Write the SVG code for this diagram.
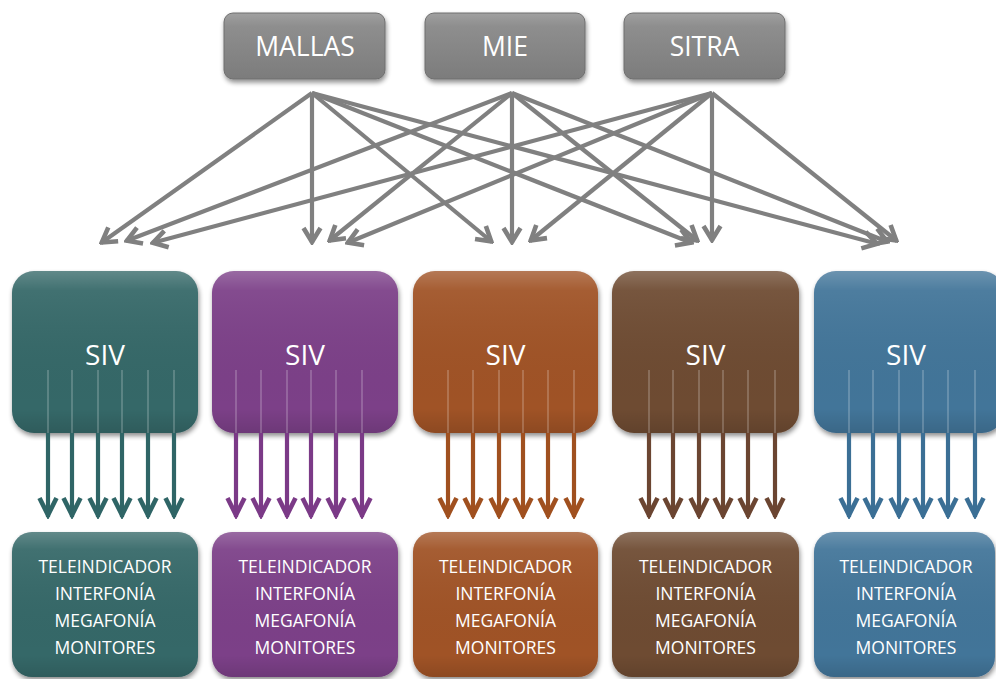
<svg xmlns="http://www.w3.org/2000/svg" width="996" height="679" viewBox="0 0 996 679">
<style>
.t{font-family:"Open Sans","Liberation Sans",sans-serif;fill:#fff;text-anchor:middle}
.top{font-size:26.5px}
.siv{font-size:28px}
.lst{font-size:17.5px}
.gc{stroke:#808080;stroke-width:4.2;fill:none}
.inner{stroke:#fff;stroke-opacity:0.22;stroke-width:1.8}
.a{stroke-width:4.2;fill:none}
</style>
<defs>
<filter id="sh" x="-10%" y="-10%" width="125%" height="130%">
<feGaussianBlur in="SourceAlpha" stdDeviation="2.5"/>
<feOffset dx="1" dy="3" result="b"/>
<feComponentTransfer><feFuncA type="linear" slope="0.45"/></feComponentTransfer>
<feMerge><feMergeNode/><feMergeNode in="SourceGraphic"/></feMerge>
</filter>
<linearGradient id="hl" x1="0" y1="0" x2="0" y2="1">
<stop offset="0" stop-color="#fff" stop-opacity="0.22"/>
<stop offset="0.12" stop-color="#fff" stop-opacity="0.06"/>
<stop offset="0.85" stop-color="#000" stop-opacity="0"/>
<stop offset="1" stop-color="#000" stop-opacity="0.12"/>
</linearGradient>
<linearGradient id="gray" x1="0" y1="0" x2="0" y2="1">
<stop offset="0" stop-color="#a0a0a0"/>
<stop offset="0.2" stop-color="#8e8e8e"/>
<stop offset="1" stop-color="#7c7c7c"/>
</linearGradient>
<marker id="mg" viewBox="-20 -12 22 24" markerWidth="22" markerHeight="24" refX="0" refY="0" orient="auto" markerUnits="userSpaceOnUse">
<path d="M-15,-8.5 L-1,0 L-15,8.5" stroke="#808080" stroke-width="4.6" fill="none"/>
</marker>
<marker id="m1" viewBox="-24 -12 26 24" markerWidth="26" markerHeight="24" refX="0" refY="0" orient="auto" markerUnits="userSpaceOnUse">
<path d="M-19,-8.5 L-2,0 L-19,8.5" stroke="#2f6566" stroke-width="4.6" fill="none"/>
</marker>
<marker id="m2" viewBox="-24 -12 26 24" markerWidth="26" markerHeight="24" refX="0" refY="0" orient="auto" markerUnits="userSpaceOnUse">
<path d="M-19,-8.5 L-2,0 L-19,8.5" stroke="#7b3a87" stroke-width="4.6" fill="none"/>
</marker>
<marker id="m3" viewBox="-24 -12 26 24" markerWidth="26" markerHeight="24" refX="0" refY="0" orient="auto" markerUnits="userSpaceOnUse">
<path d="M-19,-8.5 L-2,0 L-19,8.5" stroke="#a0501f" stroke-width="4.6" fill="none"/>
</marker>
<marker id="m4" viewBox="-24 -12 26 24" markerWidth="26" markerHeight="24" refX="0" refY="0" orient="auto" markerUnits="userSpaceOnUse">
<path d="M-19,-8.5 L-2,0 L-19,8.5" stroke="#6b4531" stroke-width="4.6" fill="none"/>
</marker>
<marker id="m5" viewBox="-24 -12 26 24" markerWidth="26" markerHeight="24" refX="0" refY="0" orient="auto" markerUnits="userSpaceOnUse">
<path d="M-19,-8.5 L-2,0 L-19,8.5" stroke="#3b6f95" stroke-width="4.6" fill="none"/>
</marker>
</defs>
<rect width="996" height="679" fill="#fff"/>

<g id="top-nodes">
<g id="mallas">
<rect x="224" y="13" width="161" height="66" rx="9" fill="url(#gray)" stroke="#6e6e6e" stroke-width="1" filter="url(#sh)"/>
<text class="t top" x="305" y="56">MALLAS</text>
</g>
<g id="mie">
<rect x="425" y="13" width="160" height="66" rx="9" fill="url(#gray)" stroke="#6e6e6e" stroke-width="1" filter="url(#sh)"/>
<text class="t top" x="505" y="56">MIE</text>
</g>
<g id="sitra">
<rect x="624" y="13" width="161" height="66" rx="9" fill="url(#gray)" stroke="#6e6e6e" stroke-width="1" filter="url(#sh)"/>
<text class="t top" x="704.5" y="56">SITRA</text>
</g>
</g>

<g id="connectors-top" class="gc">
<line x1="312" y1="93" x2="101" y2="243" marker-end="url(#mg)"/>
<line x1="312" y1="93" x2="312" y2="243" marker-end="url(#mg)"/>
<line x1="312" y1="93" x2="492" y2="242" marker-end="url(#mg)"/>
<line x1="312" y1="93" x2="692" y2="243" marker-end="url(#mg)"/>
<line x1="312" y1="93" x2="878" y2="244" marker-end="url(#mg)"/>
<line x1="512" y1="93" x2="126" y2="241" marker-end="url(#mg)"/>
<line x1="512" y1="93" x2="329" y2="241" marker-end="url(#mg)"/>
<line x1="512" y1="93" x2="512" y2="243" marker-end="url(#mg)"/>
<line x1="512" y1="93" x2="698" y2="241" marker-end="url(#mg)"/>
<line x1="512" y1="93" x2="888" y2="242" marker-end="url(#mg)"/>
<line x1="712" y1="93" x2="152" y2="243" marker-end="url(#mg)"/>
<line x1="712" y1="93" x2="347" y2="243" marker-end="url(#mg)"/>
<line x1="712" y1="93" x2="530" y2="241" marker-end="url(#mg)"/>
<line x1="712" y1="93" x2="712" y2="241" marker-end="url(#mg)"/>
<line x1="712" y1="93" x2="897" y2="241" marker-end="url(#mg)"/>
</g>

<g id="siv-nodes">
<g id="siv1"><rect x="12" y="271" width="186" height="162" rx="22" fill="#356768" filter="url(#sh)"/><rect x="12" y="271" width="186" height="162" rx="22" fill="url(#hl)"/><text class="t siv" x="105" y="365">SIV</text></g>
<g id="siv2"><rect x="212" y="271" width="186" height="162" rx="22" fill="#7c3f88" filter="url(#sh)"/><rect x="212" y="271" width="186" height="162" rx="22" fill="url(#hl)"/><text class="t siv" x="305" y="365">SIV</text></g>
<g id="siv3"><rect x="413" y="271" width="185" height="162" rx="22" fill="#a05328" filter="url(#sh)"/><rect x="413" y="271" width="185" height="162" rx="22" fill="url(#hl)"/><text class="t siv" x="505.5" y="365">SIV</text></g>
<g id="siv4"><rect x="612" y="271" width="187" height="162" rx="22" fill="#6e4b33" filter="url(#sh)"/><rect x="612" y="271" width="187" height="162" rx="22" fill="url(#hl)"/><text class="t siv" x="705.5" y="365">SIV</text></g>
<g id="siv5"><rect x="814" y="271" width="190" height="162" rx="22" fill="#437499" filter="url(#sh)"/><rect x="814" y="271" width="190" height="162" rx="22" fill="url(#hl)"/><text class="t siv" x="906" y="365">SIV</text></g>
</g>

<g id="connectors-siv">
<g class="inner">
<path d="M48,370V433M72,370V433M98,370V433M122,370V433M148,370V433M174,370V433"/>
<path d="M236,370V433M261,370V433M287,370V433M311,370V433M336,370V433M362,370V433"/>
<path d="M448,370V433M473,370V433M499,370V433M523,370V433M548,370V433M574,370V433"/>
<path d="M649,370V433M673,370V433M699,370V433M723,370V433M748,370V433M775,370V433"/>
<path d="M849,370V433M873,370V433M899,370V433M923,370V433M948,370V433M975,370V433"/>
</g>
<g class="a" stroke="#2f6566">
<line x1="48" y1="433" x2="48" y2="517" marker-end="url(#m1)"/>
<line x1="72" y1="433" x2="72" y2="517" marker-end="url(#m1)"/>
<line x1="98" y1="433" x2="98" y2="517" marker-end="url(#m1)"/>
<line x1="122" y1="433" x2="122" y2="517" marker-end="url(#m1)"/>
<line x1="148" y1="433" x2="148" y2="517" marker-end="url(#m1)"/>
<line x1="174" y1="433" x2="174" y2="517" marker-end="url(#m1)"/>
</g>
<g class="a" stroke="#7b3a87">
<line x1="236" y1="433" x2="236" y2="517" marker-end="url(#m2)"/>
<line x1="261" y1="433" x2="261" y2="517" marker-end="url(#m2)"/>
<line x1="287" y1="433" x2="287" y2="517" marker-end="url(#m2)"/>
<line x1="311" y1="433" x2="311" y2="517" marker-end="url(#m2)"/>
<line x1="336" y1="433" x2="336" y2="517" marker-end="url(#m2)"/>
<line x1="362" y1="433" x2="362" y2="517" marker-end="url(#m2)"/>
</g>
<g class="a" stroke="#a0501f">
<line x1="448" y1="433" x2="448" y2="517" marker-end="url(#m3)"/>
<line x1="473" y1="433" x2="473" y2="517" marker-end="url(#m3)"/>
<line x1="499" y1="433" x2="499" y2="517" marker-end="url(#m3)"/>
<line x1="523" y1="433" x2="523" y2="517" marker-end="url(#m3)"/>
<line x1="548" y1="433" x2="548" y2="517" marker-end="url(#m3)"/>
<line x1="574" y1="433" x2="574" y2="517" marker-end="url(#m3)"/>
</g>
<g class="a" stroke="#6b4531">
<line x1="649" y1="433" x2="649" y2="517" marker-end="url(#m4)"/>
<line x1="673" y1="433" x2="673" y2="517" marker-end="url(#m4)"/>
<line x1="699" y1="433" x2="699" y2="517" marker-end="url(#m4)"/>
<line x1="723" y1="433" x2="723" y2="517" marker-end="url(#m4)"/>
<line x1="748" y1="433" x2="748" y2="517" marker-end="url(#m4)"/>
<line x1="775" y1="433" x2="775" y2="517" marker-end="url(#m4)"/>
</g>
<g class="a" stroke="#3b6f95">
<line x1="849" y1="433" x2="849" y2="517" marker-end="url(#m5)"/>
<line x1="873" y1="433" x2="873" y2="517" marker-end="url(#m5)"/>
<line x1="899" y1="433" x2="899" y2="517" marker-end="url(#m5)"/>
<line x1="923" y1="433" x2="923" y2="517" marker-end="url(#m5)"/>
<line x1="948" y1="433" x2="948" y2="517" marker-end="url(#m5)"/>
<line x1="975" y1="433" x2="975" y2="517" marker-end="url(#m5)"/>
</g>
</g>

<g id="device-nodes">
<g id="dev1"><rect x="12" y="532" width="186" height="145" rx="20" fill="#356768" filter="url(#sh)"/><rect x="12" y="532" width="186" height="145" rx="20" fill="url(#hl)"/>
<text class="t lst" x="105"><tspan x="105" y="573">TELEINDICADOR</tspan><tspan x="105" y="600">INTERFONÍA</tspan><tspan x="105" y="627">MEGAFONÍA</tspan><tspan x="105" y="654">MONITORES</tspan></text></g>
<g id="dev2"><rect x="212" y="532" width="186" height="145" rx="20" fill="#7c3f88" filter="url(#sh)"/><rect x="212" y="532" width="186" height="145" rx="20" fill="url(#hl)"/>
<text class="t lst" x="305"><tspan x="305" y="573">TELEINDICADOR</tspan><tspan x="305" y="600">INTERFONÍA</tspan><tspan x="305" y="627">MEGAFONÍA</tspan><tspan x="305" y="654">MONITORES</tspan></text></g>
<g id="dev3"><rect x="413" y="532" width="185" height="145" rx="20" fill="#a05328" filter="url(#sh)"/><rect x="413" y="532" width="185" height="145" rx="20" fill="url(#hl)"/>
<text class="t lst" x="505.5"><tspan x="505.5" y="573">TELEINDICADOR</tspan><tspan x="505.5" y="600">INTERFONÍA</tspan><tspan x="505.5" y="627">MEGAFONÍA</tspan><tspan x="505.5" y="654">MONITORES</tspan></text></g>
<g id="dev4"><rect x="612" y="532" width="187" height="145" rx="20" fill="#6e4b33" filter="url(#sh)"/><rect x="612" y="532" width="187" height="145" rx="20" fill="url(#hl)"/>
<text class="t lst" x="705.5"><tspan x="705.5" y="573">TELEINDICADOR</tspan><tspan x="705.5" y="600">INTERFONÍA</tspan><tspan x="705.5" y="627">MEGAFONÍA</tspan><tspan x="705.5" y="654">MONITORES</tspan></text></g>
<g id="dev5"><rect x="814" y="532" width="181" height="145" rx="20" fill="#437499" filter="url(#sh)"/><rect x="814" y="532" width="181" height="145" rx="20" fill="url(#hl)"/>
<text class="t lst" x="906"><tspan x="906" y="573">TELEINDICADOR</tspan><tspan x="906" y="600">INTERFONÍA</tspan><tspan x="906" y="627">MEGAFONÍA</tspan><tspan x="906" y="654">MONITORES</tspan></text></g>
</g>
</svg>
